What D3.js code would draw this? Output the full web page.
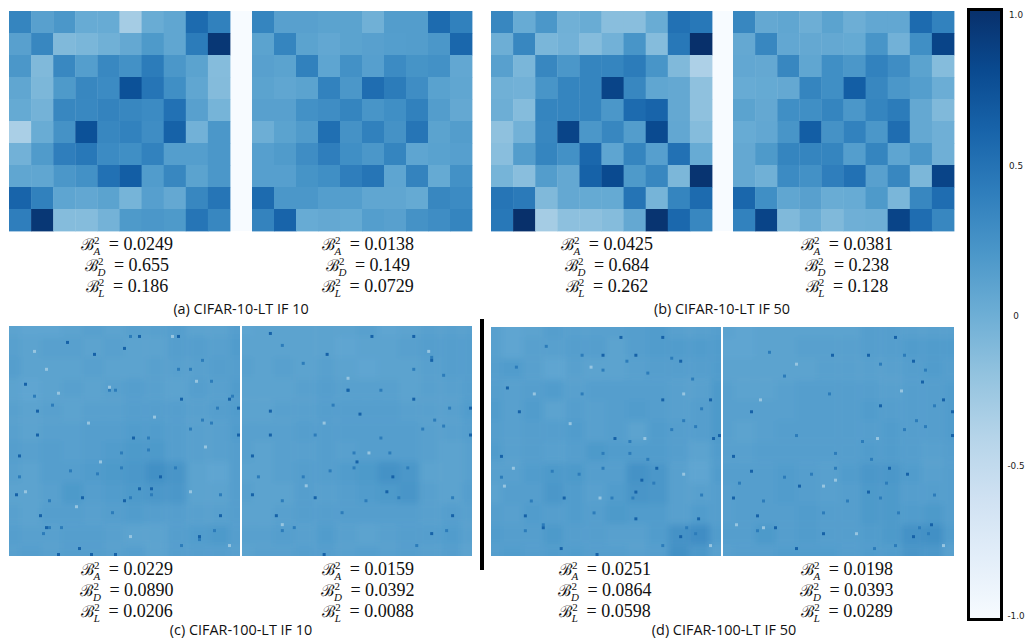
<!DOCTYPE html>
<html>
<head>
<meta charset="utf-8">
<script src="https://cdn.jsdelivr.net/npm/d3@7"></script>
<style>
  body { margin: 0; background: #fff; }
  .stat { font-family: "Liberation Serif", serif; font-size: 18px; fill: #111; }
  .cap { font-family: "Open Sans", sans-serif; font-size: 14.4px; fill: #111; }
  .cbar text { font-family: "DejaVu Sans", sans-serif; font-size: 8.8px; fill: #222; }
</style>
</head>
<body>
<div id="plot"></div>
<script>
// 10x10 panels (-1..1)
const a1 = [
  [.35,.12,.20,.03,.03,-.30,.02,.07,.55,.38],
  [.12,.33,-.10,-.07,-.02,.05,.18,.07,.42,.95],
  [.20,-.10,.32,.14,.32,.25,.42,.20,.10,-.13],
  [.07,-.08,.18,.33,.30,.75,.47,.27,.07,-.12],
  [.04,-.04,.33,.32,.36,.33,.30,.50,.12,-.05],
  [-.33,.02,.24,.75,.33,.37,.28,.62,-.03,.20],
  [-.03,.17,.40,.45,.30,.27,.37,.14,.14,.20],
  [.07,.07,.20,.25,.50,.65,.16,.33,.10,.20],
  [.60,.38,.08,.06,.10,-.05,.13,.05,.33,.47],
  [.40,.95,-.13,-.13,-.04,.18,.20,.18,.47,.33]
];
const a2 = [
  [.35,.12,.12,.10,.10,-.02,.15,.15,.55,.38],
  [.10,.35,.10,.06,.10,.12,.14,.15,.20,.58],
  [.12,.10,.38,.08,.25,.13,.30,.23,.25,.06],
  [.10,.07,.10,.37,.20,.53,.42,.28,.11,.07],
  [.12,.12,.25,.28,.35,.22,.27,.38,.15,.05],
  [0,.10,.17,.52,.24,.38,.24,.47,.10,.15],
  [.13,.17,.28,.40,.27,.20,.35,.08,.11,.13],
  [.13,.13,.23,.27,.40,.47,.08,.36,.04,.25],
  [.55,.20,.20,.14,.14,.07,.07,.04,.33,.30],
  [.36,.60,.03,.05,.04,.14,.12,.24,.28,.35]
];
const b1 = [
  [.33,.03,.20,-.02,.02,-.15,-.15,.02,.50,.45],
  [0,.33,-.07,-.03,-.13,-.03,.22,-.13,.45,1],
  [.12,-.07,.33,.20,.35,.35,.42,.22,-.10,-.35],
  [-.02,-.03,.22,.35,.35,.85,.33,.07,.05,-.18],
  [0,-.13,.35,.35,.35,.20,.55,.60,.05,-.18],
  [-.18,-.03,.33,.85,.20,.33,.15,.80,.06,-.13],
  [-.15,.15,.35,.25,.58,.08,.35,.13,.50,.03],
  [-.05,-.15,.15,.05,.62,.80,.18,.33,-.08,.97],
  [.47,.43,-.10,.05,.04,.04,.48,-.05,.35,.55],
  [.45,1,-.30,-.17,-.17,-.13,.05,.97,.57,.33]
];
const b2 = [
  [.33,.05,.07,0,.10,0,.06,.06,.55,.37],
  [.05,.33,.06,.05,.05,.04,.22,-.03,.27,.85],
  [.06,.05,.33,.07,.27,.20,.37,.28,.10,-.13],
  [.03,.04,.05,.35,.27,.65,.33,.20,.14,.01],
  [.10,.05,.27,.27,.35,.20,.35,.42,.05,-.10],
  [.03,.06,.22,.65,.24,.37,.20,.53,.05,-.01],
  [.05,.18,.35,.35,.35,.14,.35,.08,.20,-.01],
  [.05,-.02,.30,.25,.40,.50,.12,.33,-.08,.85],
  [.58,.27,.07,.12,.02,.03,.18,-.07,.33,.53],
  [.37,.85,-.10,.01,-.10,-.01,0,.85,.53,.33]
];

// CIFAR-100 panels: far too many cells to read, so local tone is estimated on a 12x12 grid
const c1 = [
  [.10,.08,.08,.10,.12,.10,.12,.12,.14,.10,.10,.14],
  [.12,.10,.12,.12,.10,.12,.10,.10,.14,.14,.12,.16],
  [.14,.10,.10,.10,.12,.10,.10,.12,.12,.12,.14,.14],
  [.10,.08,.10,.12,.10,.12,.14,.12,.10,.14,.12,.16],
  [.12,.10,.12,.10,.12,.12,.14,.14,.14,.12,.14,.16],
  [.12,.10,.12,.12,.14,.14,.16,.16,.14,.12,.12,.16],
  [.14,.12,.14,.12,.14,.16,.18,.18,.14,.12,.12,.14],
  [.12,.10,.14,.14,.16,.18,.20,.26,.22,.10,.08,.14],
  [.10,.10,.12,.18,.14,.16,.18,.20,.20,.10,.10,.14],
  [.12,.10,.14,.14,.12,.14,.16,.14,.14,.12,.12,.14],
  [.14,.12,.12,.14,.14,.12,.10,.10,.14,.16,.18,.14],
  [.12,.14,.12,.14,.14,.12,.14,.10,.14,.14,.14,.12]
];
const c2 = [
  [.08,.10,.10,.10,.10,.10,.12,.08,.10,.12,.12,.12],
  [.10,.10,.10,.10,.10,.08,.10,.10,.12,.14,.14,.14],
  [.12,.10,.12,.10,.12,.10,.08,.10,.10,.12,.14,.14],
  [.10,.10,.10,.12,.14,.12,.12,.12,.10,.12,.12,.14],
  [.10,.10,.12,.12,.14,.14,.14,.14,.12,.12,.12,.16],
  [.12,.12,.12,.14,.14,.14,.14,.14,.14,.12,.12,.14],
  [.12,.10,.12,.12,.14,.12,.14,.14,.14,.12,.10,.12],
  [.10,.10,.12,.14,.14,.16,.18,.24,.20,.10,.10,.12],
  [.12,.10,.10,.14,.12,.14,.16,.18,.22,.12,.10,.14],
  [.10,.10,.12,.14,.14,.14,.14,.14,.14,.12,.14,.12],
  [.12,.12,.14,.12,.16,.12,.10,.12,.14,.14,.16,.12],
  [.10,.12,.12,.14,.14,.12,.14,.12,.14,.12,.14,.10]
];
const d1 = [
  [.12,.08,.10,.14,.12,.12,.12,.14,.16,.12,.12,.14],
  [.12,.08,.12,.12,.14,.14,.10,.14,.16,.16,.16,.16],
  [.14,.16,.12,.08,.12,.10,.10,.12,.14,.14,.14,.16],
  [.14,.12,.14,.16,.12,.14,.14,.14,.14,.12,.12,.18],
  [.16,.12,.16,.10,.14,.12,.14,.16,.14,.12,.14,.18],
  [.14,.12,.14,.14,.16,.12,.14,.10,.16,.14,.14,.18],
  [.16,.12,.14,.12,.14,.18,.16,.16,.16,.14,.10,.16],
  [.12,.12,.16,.18,.18,.14,.14,.24,.20,.12,.08,.16],
  [.10,.14,.14,.20,.16,.12,.16,.22,.20,.12,.12,.14],
  [.14,.12,.16,.14,.16,.14,.18,.16,.16,.12,.16,.14],
  [.16,.14,.14,.18,.14,.14,.12,.12,.16,.24,.28,.16],
  [.14,.16,.14,.16,.16,.14,.14,.12,.14,.26,.20,.12]
];
const d2 = [
  [.10,.08,.10,.10,.10,.10,.10,.14,.14,.12,.12,.12],
  [.08,.08,.10,.10,.12,.12,.12,.14,.14,.16,.16,.16],
  [.10,.10,.10,.10,.10,.12,.12,.12,.12,.14,.16,.14],
  [.12,.10,.10,.12,.14,.14,.14,.14,.12,.14,.14,.16],
  [.12,.12,.12,.12,.14,.14,.14,.16,.14,.14,.14,.16],
  [.12,.10,.12,.14,.14,.14,.14,.14,.16,.14,.14,.16],
  [.12,.12,.14,.14,.14,.14,.14,.16,.16,.14,.12,.14],
  [.14,.14,.14,.16,.14,.12,.16,.20,.20,.16,.12,.14],
  [.12,.14,.14,.16,.14,.12,.14,.18,.18,.14,.14,.14],
  [.12,.14,.14,.14,.16,.14,.14,.18,.18,.16,.18,.14],
  [.14,.14,.18,.14,.16,.14,.14,.16,.18,.24,.26,.16],
  [.12,.14,.14,.16,.16,.16,.14,.16,.16,.22,.20,.12]
];

// specks that stand out, as [col, row] on the fine grid of about 77 cells
const c1Dark = [[28,9],[5,19],[9,28],[9,36],[3,43],[24,57],[23,74],[27,76],[63,70],[73,24],[76,27],[76,36],[57,24],[50,50],[41,37],[38,7],[19,5],[56,3],[43,3],[12,67],[16,76],[35,76],[43,54],[47,54],[38,58],[70,63],[10,63],[2,56]];
const c1Mid = [[8,23],[14,26],[33,21],[35,21],[40,3],[56,14],[60,14],[64,11],[67,18],[69,27],[74,23],[64,31],[67,32],[60,34],[46,37],[46,41],[37,42],[37,47],[55,47],[29,49],[20,48],[13,58],[13,67],[11,69],[17,67],[34,62],[40,57],[47,56],[70,56],[57,73],[63,71],[68,68],[3,50]];
const c1Light = [[12,14],[16,22],[26,32],[62,18],[73,73],[54,3],[8,8],[30,45],[48,30],[65,40],[22,60],[5,55],[60,55],[40,70],[33,20]];
const c2Dark = [[9,2],[28,9],[9,28],[9,36],[3,43],[63,11],[76,27],[76,36],[57,24],[50,50],[48,55],[24,57],[3,56],[11,63],[70,63],[63,69],[27,76],[57,3],[43,3],[35,21],[39,29],[38,45]];
const c2Mid = [[13,6],[20,12],[35,21],[57,14],[63,10],[67,16],[69,27],[64,31],[67,33],[60,34],[46,37],[49,42],[37,42],[37,47],[55,47],[29,48],[20,50],[13,58],[13,68],[17,67],[33,62],[41,58],[52,57],[70,57],[58,73],[68,68],[5,50],[24,36],[30,26],[46,21]];
const c2Light = [[62,8],[35,17],[13,66],[21,53],[42,42],[27,32]];
const d1Dark = [[63,11],[73,24],[76,36],[74,37],[41,37],[55,47],[50,51],[48,55],[24,57],[23,74],[35,76],[11,63],[48,64],[63,70],[69,64],[37,9],[48,9],[57,24],[9,28],[5,20],[3,43],[17,67],[57,3],[43,3]];
const d1Mid = [[8,13],[18,6],[30,9],[37,14],[45,11],[52,15],[60,10],[67,17],[70,27],[64,31],[68,33],[60,34],[46,38],[46,42],[37,42],[37,47],[29,49],[20,48],[13,58],[11,68],[17,66],[34,62],[40,57],[47,57],[70,56],[57,73],[65,67],[68,69],[3,50],[54,52],[52,44],[30,22]];
const d1Light = [[14,22],[26,32],[51,37],[73,73],[7,47],[64,49],[4,53],[36,57],[33,13],[64,22]];
const d2Dark = [[48,9],[63,11],[73,24],[76,28],[76,36],[52,26],[55,47],[48,55],[25,53],[24,74],[33,69],[17,67],[11,63],[3,57],[3,43],[9,48],[9,28],[63,70],[69,66],[61,49],[57,3],[66,18],[36,9]];
const d2Mid = [[15,8],[20,16],[35,22],[52,12],[60,9],[67,14],[70,26],[64,31],[67,33],[60,34],[46,38],[49,44],[37,42],[37,47],[29,49],[20,50],[13,58],[11,68],[33,62],[41,58],[52,57],[70,56],[57,73],[65,67],[68,69],[5,52],[24,36],[54,52],[58,62],[50,74]];
const d2Light = [[12,24],[24,12],[59,21],[51,37],[73,73],[33,53],[37,51],[13,67],[4,66],[44,69]];

const statsA = ["0.0249","0.0138","0.0425","0.0381","0.0229","0.0159","0.0251","0.0198"];
const statsD = ["0.655","0.149","0.684","0.238","0.0890","0.0392","0.0864","0.0393"];
const statsL = ["0.186","0.0729","0.262","0.128","0.0206","0.0088","0.0598","0.0289"];
const captions = ["(a) CIFAR-10-LT IF 10","(b) CIFAR-10-LT IF 50","(c) CIFAR-100-LT IF 10","(d) CIFAR-100-LT IF 50"];
const cbarTicks = [1, 0.5, 0, -0.5, -1];
const cbarLabels = ["1.0","0.5","0","-0.5","-1.0"];

const width = 1025, height = 639;
const color = d3.scaleSequential(d3.interpolateBlues).domain([-1, 1]);

const svg = d3.select("#plot").append("svg")
  .attr("width", width).attr("height", height)
  .style("display", "block");
const defs = svg.append("defs");
defs.append("filter").attr("id", "soft")
  .attr("x", "-5%").attr("y", "-5%").attr("width", "110%").attr("height", "110%")
  .append("feGaussianBlur").attr("stdDeviation", 3);

function drawGrid(g, data, x0, x1, y0, y1) {
  const idx = d3.range(data.length);
  const x = d3.scaleBand().domain(idx).range([x0, x1]);
  const y = d3.scaleBand().domain(idx).range([y0, y1]);
  g.selectAll("g").data(data).join("g")
    .selectAll("rect").data((row, r) => row.map((v, c) => ({v: v, r: r, c: c}))).join("rect")
    .attr("x", d => x(d.c)).attr("y", d => y(d.r))
    .attr("width", x.bandwidth() + 0.4).attr("height", y.bandwidth() + 0.4)
    .attr("fill", d => color(d.v));
}

function drawCoarse(id, data, dark, mid, light, x0, x1, y0, y1) {
  defs.append("clipPath").attr("id", id)
    .append("rect").attr("x", x0).attr("y", y0).attr("width", x1 - x0).attr("height", y1 - y0);
  const g = svg.append("g").attr("clip-path", "url(#" + id + ")");
  drawGrid(g.append("g").attr("filter", "url(#soft)"), data, x0 - 10, x1 + 10, y0 - 10, y1 + 10);

  const idx = d3.range(77);
  const x = d3.scaleBand().domain(idx).range([x0, x1]);
  const y = d3.scaleBand().domain(idx).range([y0, y1]);
  const specks = mid.map(d => [d[0], d[1], 0.42])
    .concat(dark.map(d => [d[0], d[1], 0.62]))
    .concat(light.map(d => [d[0], d[1], -0.22]));
  g.append("g").selectAll("rect").data(specks).join("rect")
    .attr("x", d => x(d[0])).attr("y", d => y(d[1]))
    .attr("width", x.bandwidth()).attr("height", y.bandwidth())
    .attr("fill", d => color(d[2]));
}

// pale strip between the two maps of the top row
svg.append("rect").attr("x", 230).attr("y", 11).attr("width", 22).attr("height", 220).attr("fill", color(-1));
svg.append("rect").attr("x", 712).attr("y", 11).attr("width", 21).attr("height", 220).attr("fill", color(-1));

drawGrid(svg.append("g"), a1, 9, 230, 11, 231);
drawGrid(svg.append("g"), a2, 252, 472, 11, 231);
drawGrid(svg.append("g"), b1, 491, 712, 11, 231);
drawGrid(svg.append("g"), b2, 733, 954, 11, 231);

drawCoarse("c1clip", c1, c1Dark, c1Mid, c1Light, 9, 240, 326, 556);
drawCoarse("c2clip", c2, c2Dark, c2Mid, c2Light, 242, 472, 326, 556);
drawCoarse("d1clip", d1, d1Dark, d1Mid, d1Light, 491, 721, 327, 556);
drawCoarse("d2clip", d2, d2Dark, d2Mid, d2Light, 723, 954, 327, 556);

// black divider
svg.append("rect").attr("x", 480).attr("y", 319).attr("width", 4).attr("height", 251).attr("fill", "#000");

// the B^2_X = value lines
function statLine(cx, cy, sub, value) {
  const t = svg.append("text").attr("class", "stat")
    .attr("x", cx).attr("y", cy).attr("text-anchor", "middle");
  t.append("tspan").text("\u212C").style("font-family", "DejaVu Serif").style("font-size", "16px");
  t.append("tspan").attr("dy", -6).style("font-size", "11px").text("2");
  t.append("tspan").attr("dx", -6).attr("dy", 11).style("font-size", "11px").style("font-style", "italic").text(sub);
  t.append("tspan").attr("dy", -5).attr("dx", 4).text(" = " + value);
}

const statX = [127, 368, 607, 847, 127, 368, 605, 847];
const statY = [250, 250, 250, 250, 575, 575, 575, 575];
statX.forEach(function (cx, i) {
  statLine(cx, statY[i], "A", statsA[i]);
  statLine(cx, statY[i] + 21, "D", statsD[i]);
  statLine(cx, statY[i] + 42, "L", statsL[i]);
});

const capX = [241, 722, 241, 724];
const capY = [314, 314, 635, 635];
captions.forEach(function (c, i) {
  svg.append("text").attr("class", "cap")
    .attr("x", capX[i]).attr("y", capY[i]).attr("text-anchor", "middle").text(c);
});

// colour bar
const grad = defs.append("linearGradient").attr("id", "cbarGrad")
  .attr("x1", 0).attr("y1", 1).attr("x2", 0).attr("y2", 0);
d3.range(0, 1.01, 0.1).forEach(function (t) {
  grad.append("stop").attr("offset", t).attr("stop-color", d3.interpolateBlues(t));
});
svg.append("rect").attr("x", 968.5).attr("y", 9.5).attr("width", 33).attr("height", 610)
  .attr("fill", "url(#cbarGrad)").attr("stroke", "#000").attr("stroke-width", 3);

const cbarScale = d3.scaleLinear().domain([-1, 1]).range([616, 15]);
const cbarAxis = svg.append("g").attr("class", "cbar")
  .attr("transform", "translate(1016,0)")
  .call(d3.axisRight(cbarScale).tickValues(cbarTicks).tickSize(0).tickPadding(0)
    .tickFormat((d, i) => cbarLabels[i]));
cbarAxis.select(".domain").remove();
cbarAxis.selectAll("text").attr("text-anchor", "middle");
</script>
</body>
</html>
